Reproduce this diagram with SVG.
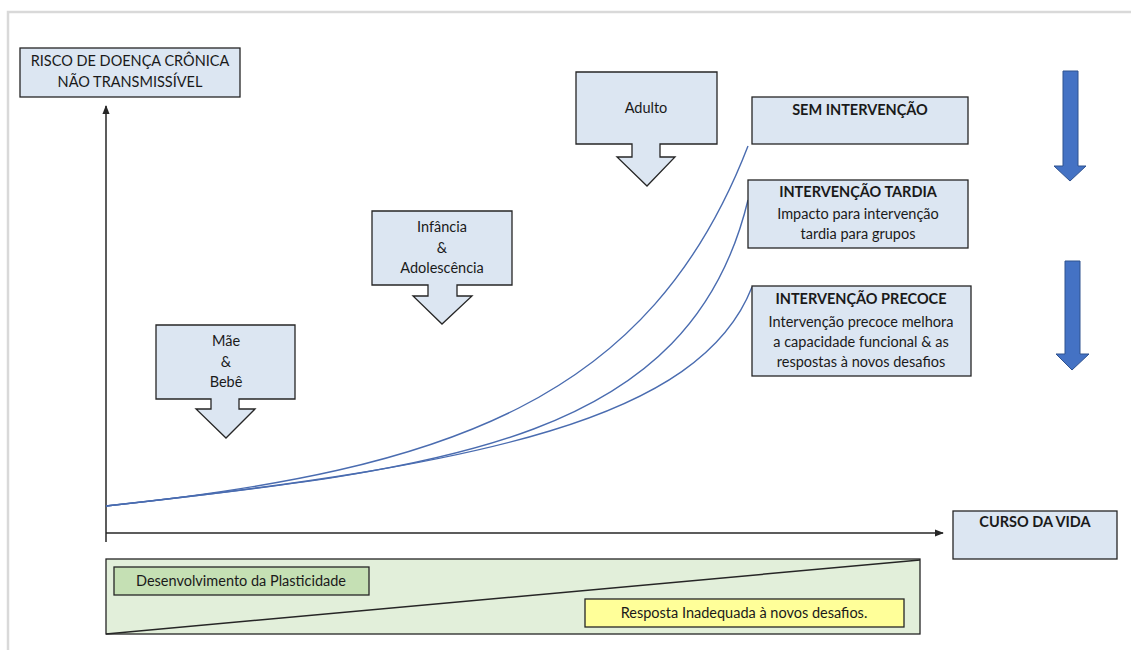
<svg xmlns="http://www.w3.org/2000/svg" width="1131" height="650" viewBox="0 0 1131 650">
<defs>
<style>
.box{fill:#dce6f2;stroke:#262626;stroke-width:1.3}
.t{font-family:Lato,"Liberation Sans",sans-serif;font-size:14.5px;fill:#1a1a1a;text-anchor:middle}
.b{font-weight:bold}
.curve{fill:none;stroke:#4a6cb0;stroke-width:1.4}
.axis{fill:none;stroke:#262626;stroke-width:1.5}
.blue{fill:#4472c4;stroke:#2f528f;stroke-width:1}
</style>
<marker id="ah" viewBox="0 0 10 10" refX="9" refY="5" markerWidth="6" markerHeight="6" orient="auto"><path d="M0,1 L10,5 L0,9 z" fill="#262626"/></marker>
</defs>
<rect x="0" y="0" width="1131" height="650" fill="#fff"/>
<path d="M8,650 V12 H1131" fill="none" stroke="#d9d9d9" stroke-width="2.5"/>

<g id="connectors">
<path class="axis" d="M106,542 V106" marker-end="url(#ah)"/>
<path class="axis" d="M106,533 H943" marker-end="url(#ah)"/>
<path class="curve" d="M106,506 C450,470 650,400 748,146"/>
<path class="curve" d="M106,506 C450,468 690,440 748,200"/>
<path class="curve" d="M106,506 C480,465 700,420 752,287"/>
</g>

<g id="y-label">
<rect class="box" x="20" y="48" width="220" height="49"/>
<text class="t" x="130" y="66">RISCO DE DOENÇA CRÔNICA</text>
<text class="t" x="130" y="87">NÃO TRANSMISSÍVEL</text>
</g>

<g id="mae-bebe">
<path class="box" d="M156,325 H295 V399 H239 V409 H255 L226,438 L196,409 H211 V399 H156 Z"/>
<text class="t" x="226" y="346">Mãe</text>
<text class="t" x="226" y="367">&amp;</text>
<text class="t" x="226" y="387">Bebê</text>
</g>

<g id="infancia">
<path class="box" d="M372,211 H512 V285 H457 V296 H472 L442,324 L413,296 H428 V285 H372 Z"/>
<text class="t" x="442" y="232">Infância</text>
<text class="t" x="442" y="253">&amp;</text>
<text class="t" x="442" y="273">Adolescência</text>
</g>

<g id="adulto">
<path class="box" d="M576,72 H717 V144 H660 V157 H675 L647,186 L617,157 H632 V144 H576 Z"/>
<text class="t" x="646" y="113">Adulto</text>
</g>

<g id="sem-intervencao">
<rect class="box" x="752" y="97" width="216" height="47"/>
<text class="t b" x="860" y="115">SEM INTERVENÇÃO</text>
</g>

<g id="intervencao-tardia">
<rect class="box" x="748" y="180" width="220" height="68"/>
<text class="t b" x="858" y="197">INTERVENÇÃO TARDIA</text>
<text class="t" x="858" y="219">Impacto para intervenção</text>
<text class="t" x="858" y="239">tardia para grupos</text>
</g>

<g id="intervencao-precoce">
<rect class="box" x="752" y="286" width="219" height="90"/>
<text class="t b" x="861" y="304">INTERVENÇÃO PRECOCE</text>
<text class="t" x="861" y="327">Intervenção precoce melhora</text>
<text class="t" x="861" y="347">a capacidade funcional &amp; as</text>
<text class="t" x="861" y="367">respostas à novos desafios</text>
</g>

<g id="arrow-1">
<path class="blue" d="M1063,71 H1078 V166 H1086 L1070,181 L1054,166 H1063 Z"/>
</g>
<g id="arrow-2">
<path class="blue" d="M1065,261 H1080 V354 H1089 L1072,370 L1056,354 H1065 Z"/>
</g>

<g id="curso-da-vida">
<rect class="box" x="953" y="511" width="164" height="48"/>
<text class="t b" x="1035" y="527">CURSO DA VIDA</text>
</g>

<g id="plasticidade-band">
<rect x="106" y="559" width="814" height="75" fill="#e2efda" stroke="#262626" stroke-width="1.3"/>
<path d="M106,634 L920,560" fill="none" stroke="#262626" stroke-width="1.5"/>
</g>

<g id="desenvolvimento">
<rect x="114" y="567" width="255" height="28" fill="#c5e0b4" stroke="#262626" stroke-width="1.3"/>
<text class="t" x="241" y="586">Desenvolvimento da Plasticidade</text>
</g>

<g id="resposta">
<rect x="585" y="599" width="319" height="28" fill="#ffff99" stroke="#262626" stroke-width="1.3"/>
<text class="t" x="744" y="618">Resposta Inadequada à novos desafios.</text>
</g>
</svg>
